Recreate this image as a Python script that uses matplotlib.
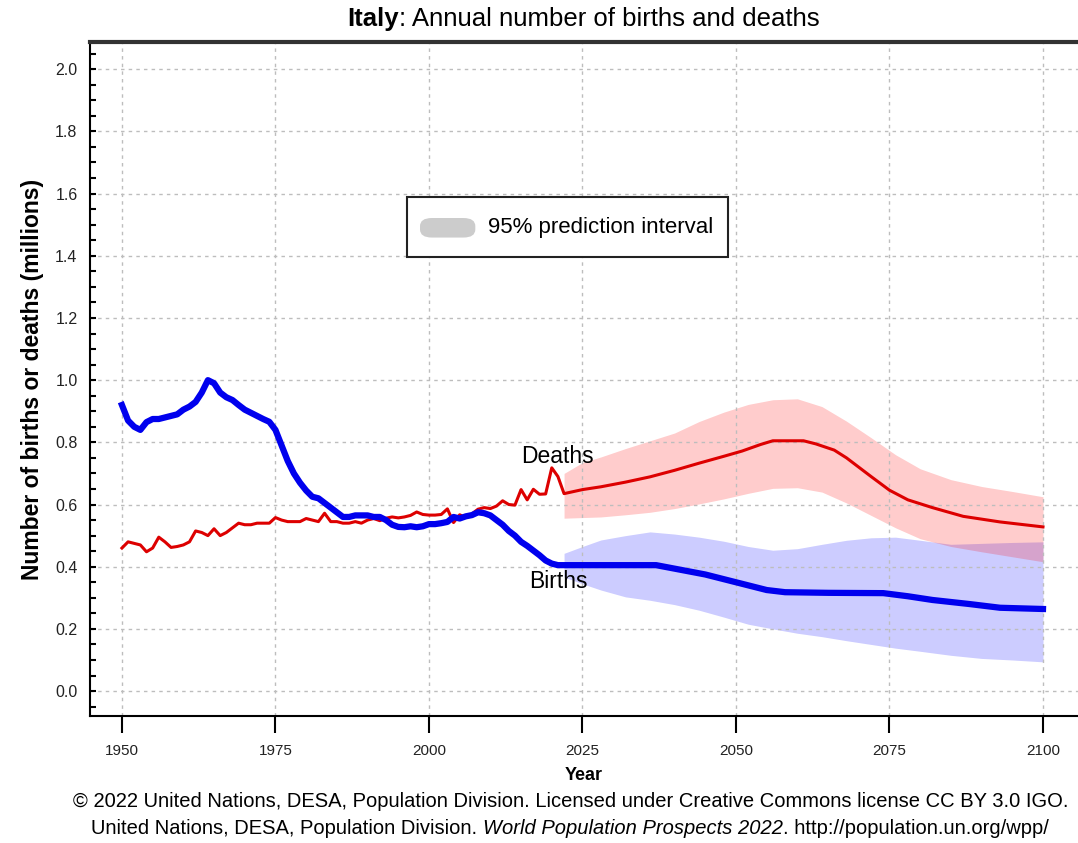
import numpy as np
import matplotlib
matplotlib.use("Agg")
import matplotlib.pyplot as plt
from matplotlib.patches import FancyBboxPatch, Rectangle
from matplotlib.ticker import MultipleLocator, FormatStrFormatter

plt.rcParams['font.family'] = ['Liberation Sans', 'DejaVu Sans']

# Births, estimates (1950-2021) and medium projection (2022-2100)
birth_years = list(range(1950, 2022)) + [2022, 2030, 2037, 2041, 2045, 2050, 2055, 2058,
                                         2065, 2074, 2078, 2082, 2088, 2093, 2100]
births = [0.92, 0.87, 0.85, 0.84, 0.865, 0.875, 0.875, 0.88, 0.885, 0.89,
          0.905, 0.915, 0.93, 0.96, 1.0, 0.99, 0.96, 0.945, 0.936, 0.92,
          0.905, 0.895, 0.885, 0.875, 0.866, 0.84, 0.79, 0.74, 0.70, 0.67,
          0.645, 0.625, 0.62, 0.605, 0.59, 0.575, 0.56, 0.56, 0.565, 0.565,
          0.565, 0.56, 0.56, 0.55, 0.535, 0.528, 0.527, 0.53, 0.527, 0.53,
          0.537, 0.537, 0.54, 0.544, 0.56, 0.555, 0.562, 0.566, 0.575, 0.572,
          0.565, 0.55, 0.535, 0.515, 0.50, 0.48, 0.467, 0.452, 0.437, 0.42,
          0.41, 0.405,
          0.405, 0.405, 0.405, 0.39, 0.375, 0.35, 0.325, 0.318,
          0.316, 0.315, 0.305, 0.293, 0.28, 0.268, 0.264]

# Deaths, estimates (1950-2021) and medium projection
death_years = list(range(1950, 2022)) + [2022, 2025, 2028, 2032, 2036, 2040, 2044, 2048,
                                         2051, 2054, 2056, 2061, 2063, 2066, 2068, 2070,
                                         2072, 2075, 2078, 2082, 2087, 2093, 2100]
deaths = [0.46, 0.48, 0.475, 0.47, 0.448, 0.46, 0.495, 0.48, 0.462, 0.465,
          0.47, 0.48, 0.515, 0.51, 0.50, 0.522, 0.50, 0.51, 0.525, 0.54,
          0.535, 0.535, 0.54, 0.54, 0.54, 0.558, 0.55, 0.545, 0.545, 0.545,
          0.555, 0.55, 0.545, 0.572, 0.545, 0.545, 0.54, 0.54, 0.545, 0.54,
          0.55, 0.555, 0.548, 0.556, 0.56, 0.557, 0.56, 0.565, 0.576, 0.568,
          0.566, 0.566, 0.568, 0.586, 0.542, 0.567, 0.558, 0.57, 0.585, 0.59,
          0.587, 0.595, 0.612, 0.60, 0.598, 0.648, 0.615, 0.649, 0.633, 0.634,
          0.718, 0.69,
          0.635, 0.648, 0.657, 0.672, 0.689, 0.71, 0.733, 0.755,
          0.772, 0.793, 0.805, 0.805, 0.795, 0.775, 0.75, 0.72,
          0.69, 0.646, 0.615, 0.59, 0.562, 0.544, 0.528]

# 95% prediction intervals
band_years = [2022, 2025, 2028, 2032, 2036, 2040, 2044, 2048, 2052, 2056,
              2060, 2064, 2068, 2072, 2076, 2080, 2085, 2090, 2095, 2100]
deaths_hi = [0.70, 0.735, 0.753, 0.78, 0.805, 0.83, 0.867, 0.897, 0.922, 0.937,
             0.94, 0.915, 0.868, 0.815, 0.76, 0.715, 0.68, 0.658, 0.642, 0.625]
deaths_lo = [0.556, 0.558, 0.56, 0.567, 0.575, 0.587, 0.602, 0.618, 0.636, 0.652,
             0.654, 0.64, 0.605, 0.565, 0.525, 0.49, 0.465, 0.448, 0.432, 0.416]
births_hi = [0.443, 0.465, 0.486, 0.50, 0.512, 0.505, 0.495, 0.482, 0.465, 0.453,
             0.458, 0.472, 0.485, 0.493, 0.495, 0.485, 0.472, 0.475, 0.478, 0.48]
births_lo = [0.367, 0.345, 0.325, 0.303, 0.292, 0.278, 0.26, 0.238, 0.215, 0.2,
             0.186, 0.175, 0.162, 0.15, 0.138, 0.128, 0.115, 0.105, 0.10, 0.094]

fig = plt.figure(figsize=(10.78, 8.43), dpi=100)
ax = fig.add_axes([0.0835, 0.1507, 0.9165, 0.7993])

ax.fill_between(band_years, births_lo, births_hi, color='#0000ff', alpha=0.2, lw=0)
ax.fill_between(band_years, deaths_lo, deaths_hi, color='#ff0000', alpha=0.2, lw=0)
ax.plot(death_years, deaths, color='#dd0000', lw=2.2, zorder=3)
ax.plot(birth_years, births, color='#0000ee', lw=4.5, zorder=4)

ax.text(2021.0, 0.755, 'Deaths', fontsize=16.5, ha='center', va='center')
ax.text(2021.0, 0.352, 'Births', fontsize=16.5, ha='center', va='center')

ax.set_xlim(1944.8, 2105.7)
ax.set_ylim(-0.08, 2.087)

ax.xaxis.set_major_locator(MultipleLocator(25))
ax.yaxis.set_major_locator(MultipleLocator(0.2))
ax.yaxis.set_minor_locator(MultipleLocator(0.05))
ax.yaxis.set_major_formatter(FormatStrFormatter('%.1f'))
ax.grid(True, which='major', color='#bdbdbd', linestyle=(0, (2.5, 3)), lw=1)

ax.tick_params(axis='x', direction='out', length=12, width=1.5, labelsize=11, pad=8)
ax.tick_params(axis='y', which='both', direction='in', length=4, width=1.5, labelsize=11.5, pad=9)
for lab in ax.get_xticklabels() + ax.get_yticklabels():
    lab.set_color('#222222')

ax.spines['right'].set_visible(False)
ax.spines['top'].set_linewidth(3)
ax.spines['top'].set_color('#333333')
ax.spines['left'].set_linewidth(1.5)
ax.spines['bottom'].set_linewidth(1.5)

ax.set_xlabel('Year', fontsize=13, fontweight='bold', labelpad=7)
ax.set_ylabel('Number of births or deaths (millions)', fontsize=16.5, fontweight='bold', labelpad=8)

# legend box
ax.add_patch(Rectangle((0.321, 0.681), 0.325, 0.089, transform=ax.transAxes,
                       facecolor='white', edgecolor='#222222', lw=1.5, zorder=5))
ax.add_patch(FancyBboxPatch((0.334, 0.710), 0.056, 0.029, transform=ax.transAxes,
                            boxstyle='round,pad=0,rounding_size=0.012',
                            facecolor='#cccccc', edgecolor='none', zorder=6))
ax.text(0.403, 0.725, '95% prediction interval', transform=ax.transAxes,
        fontsize=16, va='center', ha='left', zorder=6)


def text_row(y, parts, size, xc):
    # lay out several differently styled pieces on one centred line
    fig.canvas.draw()
    r = fig.canvas.get_renderer()
    objs = [fig.text(0, y, s, fontsize=size, va='center', **kw) for s, kw in parts]
    widths = [o.get_window_extent(r).width / fig.bbox.width for o in objs]
    x = xc - sum(widths) / 2
    for o, w in zip(objs, widths):
        o.set_x(x)
        x += w


text_row(0.978, [('Italy', dict(fontweight='bold')),
                 (': Annual number of births and deaths', {})], 18.5, 0.541)
fig.text(0.529, 0.049,
         '© 2022 United Nations, DESA, Population Division. Licensed under Creative Commons license CC BY 3.0 IGO.',
         fontsize=14.5, ha='center', va='center')
text_row(0.017, [('United Nations, DESA, Population Division. ', {}),
                 ('World Population Prospects 2022', dict(style='italic')),
                 ('. http://population.un.org/wpp/', {})], 14.5, 0.529)

fig.savefig('out.png', dpi=100)
